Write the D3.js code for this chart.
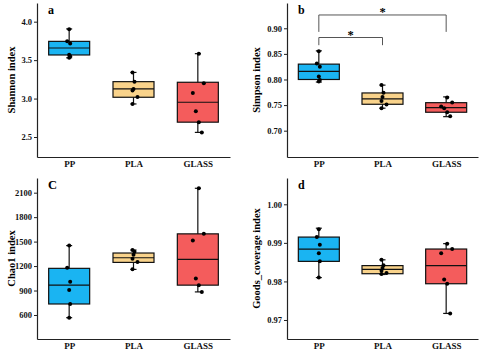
<!DOCTYPE html>
<html>
<head>
<meta charset="utf-8">
<script src="https://cdn.jsdelivr.net/npm/d3@7"></script>
<style>
  body { margin: 0; background: #fff; }
  svg { display: block; font-family: "Liberation Serif", "Times New Roman", serif; font-weight: bold; }
</style>
</head>
<body>
<script>
/* DATA */
const groups = ["PP", "PLA", "GLASS"];
const groupColors = ["#1ab4f2", "#f9d38b", "#f45c5c"];

// box stats per group: [min, q1, median, q3, max]
const shannonBox = [[3.53, 3.567, 3.658, 3.744, 3.906], [2.93, 3.017, 3.126, 3.22, 3.34], [2.56, 2.693, 2.952, 3.212, 3.584]];
const shannonPts = [[3.90, 3.745, 3.715, 3.57, 3.55, 3.53], [3.34, 3.22, 3.125, 3.105, 3.02, 2.93], [3.584, 3.20, 3.074, 2.835, 2.693, 2.56]];
const shannonTicks = [2.5, 3.0, 3.5, 4.0];

const simpsonBox = [[0.795, 0.800, 0.816, 0.830, 0.856], [0.744, 0.7516, 0.762, 0.7737, 0.789], [0.7274, 0.736, 0.745, 0.7547, 0.766]];
const simpsonPts = [[0.855, 0.831, 0.825, 0.806, 0.799, 0.796], [0.789, 0.774, 0.766, 0.758, 0.751, 0.744], [0.765, 0.755, 0.747, 0.744, 0.736, 0.728]];
const simpsonTicks = [0.70, 0.75, 0.80, 0.85, 0.90];
// significance brackets: [from group, to group, bar level, leg end]
const simpsonSig = [["PP", "GLASS", 0.926, 0.893], ["PP", "PLA", 0.882, 0.867]];

const chaoBox = [[567, 735, 966, 1172, 1451], [1159, 1245, 1302, 1360, 1397], [883, 966, 1282, 1595, 2154]];
const chaoPts = [[1451, 1179, 1007, 905, 735, 567], [1397, 1375, 1340, 1290, 1250, 1160], [2154, 1595, 1515, 1049, 966, 883]];
const chaoTicks = [600, 900, 1200, 1500, 1800, 2100];

const goodsBox = [[0.981, 0.9852, 0.9884, 0.9915, 0.9938], [0.9818, 0.982, 0.9831, 0.9841, 0.9856], [0.9717, 0.9794, 0.9841, 0.9884, 0.9898]];
const goodsPts = [[0.9935, 0.9915, 0.9895, 0.9873, 0.9852, 0.981], [0.9856, 0.9842, 0.9835, 0.9828, 0.9822, 0.9819], [0.9898, 0.9884, 0.9873, 0.9805, 0.9794, 0.9717]];
const goodsTicks = [0.97, 0.98, 0.99, 1.00];

// small horizontal jitter of the dots (px)
const jitter = [[0, -2, 1, 0, 1, 0], [-1, 1, 0, -1, 4, -1], [1, 6, -5, -2, 1, 4]];

/* LAYOUT */
const width = 480, height = 351, boxW = 41;

const panels = [
  {letter: "a", title: "Shannon index", box: shannonBox, pts: shannonPts, ticks: shannonTicks, fmt: ".1f",
   domain: [2.24, 4.243], x: [37, 230], y: [157, 3], titleX: 13},
  {letter: "b", title: "Simpson index", box: simpsonBox, pts: simpsonPts, ticks: simpsonTicks, fmt: ".2f",
   domain: [0.6486, 0.9494], x: [287, 478], y: [157, 3], titleX: 258, sig: simpsonSig},
  {letter: "C", title: "Chao1 index", box: chaoBox, pts: chaoPts, ticks: chaoTicks, fmt: "d",
   domain: [305.6, 2280], x: [37, 230], y: [339, 178], titleX: 13},
  {letter: "d", title: "Goods_coverage index", box: goodsBox, pts: goodsPts, ticks: goodsTicks, fmt: ".2f",
   domain: [0.96507, 1.00682], x: [287, 478], y: [339, 178], titleX: 258}
];

const svg = d3.select("body").append("svg")
  .attr("width", width)
  .attr("height", height);

svg.append("rect").attr("width", width).attr("height", height).attr("fill", "#fff");

panels.forEach(p => {
  const g = svg.append("g");

  const xScale = d3.scalePoint().domain(groups).range(p.x).padding(0.5);
  const yScale = d3.scaleLinear().domain(p.domain).range(p.y);

  // y axis
  const yAxis = d3.axisLeft(yScale).tickValues(p.ticks).tickFormat(d3.format(p.fmt))
    .tickSize(3).tickSizeOuter(0).tickPadding(2);
  const ya = g.append("g").attr("transform", `translate(${p.x[0]},0)`).call(yAxis);
  ya.selectAll("text").style("font-size", "8.5px").style("font-family", "Liberation Serif").attr("fill", "#111");
  ya.select(".domain").attr("stroke", "#222").attr("stroke-width", 1.2);
  ya.selectAll(".tick line").attr("stroke", "#222");

  // x axis
  const xAxis = d3.axisBottom(xScale).tickSize(0).tickSizeOuter(0).tickPadding(4);
  const xa = g.append("g").attr("transform", `translate(0,${p.y[0]})`).call(xAxis);
  xa.selectAll("text").style("font-size", "9px").style("font-family", "Liberation Serif").attr("fill", "#111");
  xa.select(".domain").attr("stroke", "#222").attr("stroke-width", 1.2);

  // y title
  g.append("text")
    .attr("transform", `translate(${p.titleX},${(p.y[0] + p.y[1]) / 2}) rotate(-90)`)
    .attr("text-anchor", "middle")
    .attr("dominant-baseline", "middle")
    .style("font-size", "10.5px")
    .text(p.title);

  // panel letter
  g.append("text")
    .attr("x", p.x[0] + 11)
    .attr("y", p.y[1] + 11)
    .style("font-size", p.letter === "C" ? "12.5px" : "12px")
    .text(p.letter);

  groups.forEach((grp, i) => {
    const [mn, q1, med, q3, mx] = p.box[i];
    const cx = xScale(grp);
    // whisker
    g.append("line").attr("x1", cx).attr("x2", cx)
      .attr("y1", yScale(mn)).attr("y2", yScale(mx))
      .attr("stroke", "#111").attr("stroke-width", 1.2);
    [mn, mx].forEach(v => {
      g.append("line").attr("x1", cx - 3).attr("x2", cx + 3)
        .attr("y1", yScale(v)).attr("y2", yScale(v))
        .attr("stroke", "#111").attr("stroke-width", 1.2);
    });
    // box
    g.append("rect")
      .attr("x", cx - boxW / 2).attr("width", boxW)
      .attr("y", yScale(q3)).attr("height", yScale(q1) - yScale(q3))
      .attr("fill", groupColors[i]).attr("stroke", "#111").attr("stroke-width", 1.2);
    // median
    g.append("line").attr("x1", cx - boxW / 2).attr("x2", cx + boxW / 2)
      .attr("y1", yScale(med)).attr("y2", yScale(med))
      .attr("stroke", "#111").attr("stroke-width", 1.2);
    // points
    g.selectAll(null)
      .data(p.pts[i])
      .join("circle")
      .attr("cx", (d, j) => cx + jitter[i][j])
      .attr("cy", d => yScale(d))
      .attr("r", 2)
      .attr("fill", "#000");
  });

  // significance brackets
  if (p.sig) {
    p.sig.forEach(s => {
      const xa1 = xScale(s[0]), xa2 = xScale(s[1]);
      g.append("path")
        .attr("d", `M${xa1},${yScale(s[3])}V${yScale(s[2])}H${xa2}V${yScale(s[3])}`)
        .attr("fill", "none").attr("stroke", "#555").attr("stroke-width", 1);
      g.append("text")
        .attr("x", (xa1 + xa2) / 2)
        .attr("y", yScale(s[2]) + 1)
        .attr("text-anchor", "middle")
        .attr("fill", "#000")
        .style("font-size", "12.5px")
        .text("*");
    });
  }
});
</script>
</body>
</html>
